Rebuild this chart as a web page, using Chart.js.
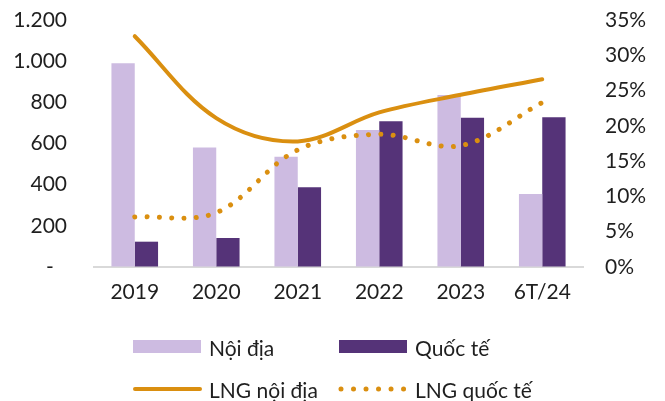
<!DOCTYPE html>
<html>
<head>
<meta charset="utf-8">
<script src="https://cdn.jsdelivr.net/npm/chart.js@4"></script>
<style>
  body { margin: 0; background: #fff; }
  #wrap { position: relative; width: 665px; height: 401px; }
  #legend { position: absolute; left: 132px; top: 326px; display: grid;
            grid-template-columns: 206px 206px; row-gap: 0; }
  .item { display: flex; align-items: center; height: 42px;
          font: 21px Lato, sans-serif; color: #1f1f1f; }
  .item canvas { margin-right: 7px; }
</style>
</head>
<body>
<div id="wrap">
  <canvas id="chart" width="665" height="401"></canvas>
  <div id="legend"></div>
</div>
<script>
// categories
const labels = ['2019', '2020', '2021', '2022', '2023', '6T/24'];
// left axis values
const noiDia = [990, 580, 536, 666, 836, 355];
const quocTe = [123, 141, 387, 708, 725, 727];
// right axis values, %
const lngNoiDia = [32.7, 21.1, 17.8, 21.9, 24.4, 26.6];
const lngQuocTe = [7.1, 7.7, 16.6, 18.8, 17.2, 23.3];

const LIGHT = '#cdbbe1';
const DARK = '#553378';
const ORANGE = '#da8f10';

Chart.defaults.font.family = 'Lato, sans-serif';
Chart.defaults.font.size = 21;
Chart.defaults.color = '#1f1f1f';

// hidden tick marks give the label gap without adding top padding
const hiddenGrid = (len) => ({
    display: true, drawOnChartArea: false, drawTicks: true,
    tickLength: len, color: 'rgba(0,0,0,0)'
});

const chart = new Chart(document.getElementById('chart'), {
    data: {
        labels: labels,
        datasets: [
            {
                type: 'line', label: 'LNG nội địa', data: lngNoiDia, yAxisID: 'y1',
                borderColor: ORANGE, borderWidth: 4, borderCapStyle: 'round',
                pointRadius: 0, tension: 0.35, order: 0
            },
            {
                type: 'line', label: 'LNG quốc tế', data: lngQuocTe, yAxisID: 'y1',
                borderColor: ORANGE, borderWidth: 5, borderCapStyle: 'round',
                borderDash: [0.01, 12.3], pointRadius: 0, tension: 0.35, order: 0
            },
            {
                type: 'bar', label: 'Nội địa', data: noiDia, yAxisID: 'y',
                backgroundColor: LIGHT, order: 1
            },
            {
                type: 'bar', label: 'Quốc tế', data: quocTe, yAxisID: 'y',
                backgroundColor: DARK, order: 1
            }
        ]
    },
    options: {
        responsive: false,
        animation: false,
        layout: { padding: { top: 20, left: 0, right: 0, bottom: 0 } },
        datasets: { bar: { categoryPercentage: 0.572, barPercentage: 1 } },
        plugins: { legend: { display: false }, tooltip: { enabled: false } },
        scales: {
            x: {
                grid: { display: false, drawTicks: false },
                border: { display: true, color: '#d9d9d9', width: 2 },
                ticks: { padding: 13 },
                afterFit: (s) => { s.height = 134; }
            },
            y: {
                position: 'left', min: 0, max: 1200,
                grid: hiddenGrid(27),
                border: { display: false },
                ticks: {
                    stepSize: 200, padding: 0,
                    callback: (v) => v === 0 ? '-\u2002\u2009' : v.toLocaleString('de-DE')
                },
                afterFit: (s) => { s.width = 94; }
            },
            y1: {
                position: 'right', min: 0, max: 35,
                grid: hiddenGrid(22),
                border: { display: false },
                ticks: { stepSize: 5, padding: 0, callback: (v) => v + '%' },
                afterFit: (s) => { s.width = 82; }
            }
        }
    }
});

// legend: 2x2 grid, bars first then lines
const legendOrder = [2, 3, 0, 1];
const legendEl = document.getElementById('legend');
legendOrder.forEach((i) => {
    const ds = chart.data.datasets[i];
    const item = document.createElement('div');
    item.className = 'item';
    const sw = document.createElement('canvas');
    sw.width = 70; sw.height = 14;
    const c = sw.getContext('2d');
    if (ds.type === 'bar') {
        c.fillStyle = ds.backgroundColor;
        c.fillRect(1, 0, 68, 13);
    } else {
        c.strokeStyle = ds.borderColor;
        c.lineWidth = ds.borderWidth;
        c.lineCap = 'round';
        if (ds.borderDash) c.setLineDash([0.01, 12.5]);
        c.beginPath();
        c.moveTo(3, 7);
        c.lineTo(68, 7);
        c.stroke();
    }
    item.appendChild(sw);
    const t = document.createElement('span');
    t.textContent = ds.label;
    item.appendChild(t);
    legendEl.appendChild(item);
});
</script>
</body>
</html>
